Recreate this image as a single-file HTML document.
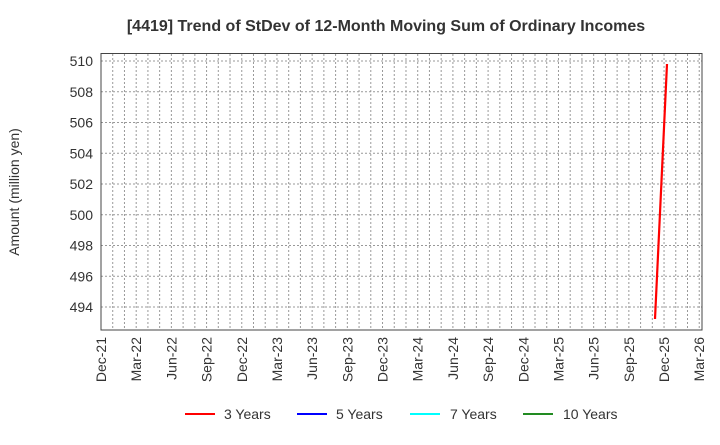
<!DOCTYPE html>
<html><head><meta charset="utf-8"><style>
body{margin:0;background:#fff;}
svg text{font-family:"Liberation Sans",sans-serif;fill:#333;}
</style></head><body>
<svg width="720" height="440" xmlns="http://www.w3.org/2000/svg">
<text x="386" y="31" text-anchor="middle" font-size="16" font-weight="bold">[4419]  Trend of StDev of 12-Month Moving Sum of Ordinary Incomes</text>
<text transform="translate(19,192) rotate(-90)" text-anchor="middle" font-size="14">Amount (million yen)</text>
<g id="grid" stroke="#999" stroke-width="1" stroke-dasharray="2,2"></g>
<g id="lbl" font-size="14"></g>
<rect x="101" y="53.5" width="601" height="276.5" fill="none" stroke="#444" stroke-width="1"/>
<line x1="655" y1="319" x2="667" y2="64" stroke="#ff0000" stroke-width="2.2"/>
<g font-size="14">
<line x1="185" y1="414" x2="215" y2="414" stroke="#ff0000" stroke-width="2"/><text x="224" y="419">3 Years</text>
<line x1="297" y1="414" x2="327" y2="414" stroke="#0000ff" stroke-width="2"/><text x="336" y="419">5 Years</text>
<line x1="410" y1="414" x2="440" y2="414" stroke="#00ffff" stroke-width="2"/><text x="450" y="419">7 Years</text>
<line x1="523" y1="414" x2="553" y2="414" stroke="#228b22" stroke-width="2"/><text x="563" y="419">10 Years</text>
</g>
<script>
var ns="http://www.w3.org/2000/svg",g=document.getElementById("grid"),l=document.getElementById("lbl");
function mk(p,t,a){var e=document.createElementNS(ns,t);for(var k in a)e.setAttribute(k,a[k]);p.appendChild(e);return e;}
for(var v=494;v<=510;v+=2){var y=307-(v-494)*15.375;mk(g,"line",{x1:101,x2:702,y1:y,y2:y});var t=mk(l,"text",{x:93,y:y+5,"text-anchor":"end"});t.textContent=v;}
for(var m=1;m<52;m++){var x=101+m*11.73;mk(g,"line",{x1:x,x2:x,y1:54,y2:330});}
var names=["Dec","Mar","Jun","Sep"];
for(var q=0;q<=17;q++){var x=101+q*3*11.73;var yr=21+Math.floor((q+3)/4);var n=names[q%4];
var t=mk(l,"text",{transform:"translate("+(x+5)+",337) rotate(-90)","text-anchor":"end"});t.textContent=n+"-"+yr;}
</script>
</svg>
</body></html>
